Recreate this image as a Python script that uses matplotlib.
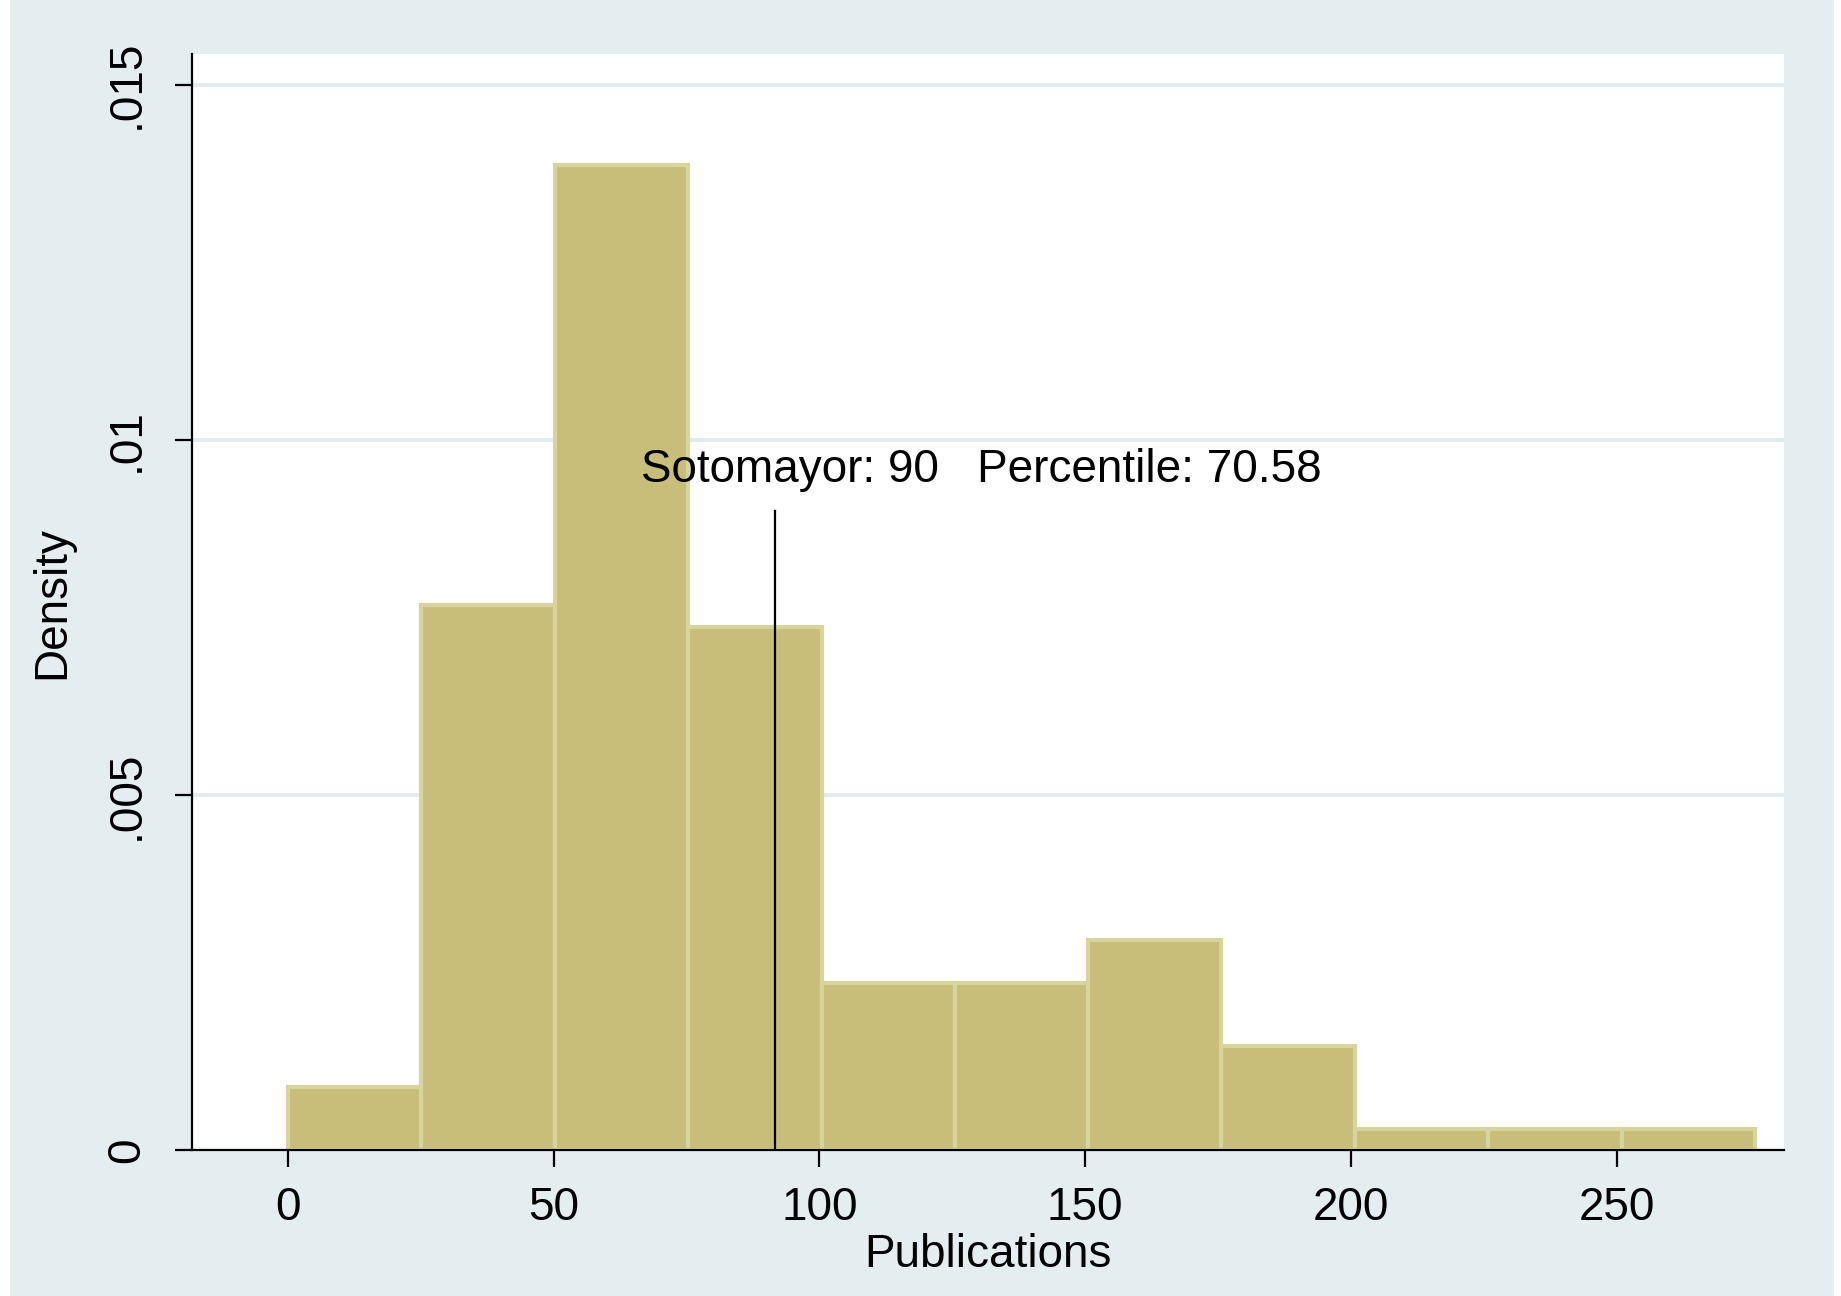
import matplotlib.pyplot as plt
from matplotlib.patches import Rectangle

# histogram
bin_edges = [0, 25.1, 50.2, 75.3, 100.4, 125.5, 150.5, 175.6, 200.7, 225.8, 250.9, 276]
density = [0.00088, 0.00767, 0.01387, 0.00737, 0.00235, 0.00235, 0.00295,
           0.00147, 0.00029, 0.00029, 0.00029]

marker_x = 91.6
marker_top = 0.009
label_text = "Sotomayor: 90   Percentile: 70.58"

xticks = [0, 50, 100, 150, 200, 250]
yticks = [0, 0.005, 0.01, 0.015]
ytick_labels = ["0", ".005", ".01", ".015"]

bg = "#e4eef0"
fs = 33
plt.rcParams["font.family"] = ["Liberation Sans", "DejaVu Sans"]

fig = plt.figure(figsize=(18.41, 12.96), dpi=100, facecolor="white")
fig.patches.append(Rectangle((10 / 1841, 0), (1834 - 10) / 1841, 1,
                             transform=fig.transFigure, facecolor=bg,
                             edgecolor="none", zorder=-10))

ax = fig.add_axes([0.1042, 0.1127, 0.9689 - 0.1042, 0.9581 - 0.1127])
ax.set_zorder(1)
ax.set_facecolor("white")

# grid lines behind bars
for y in yticks[1:]:
    ax.axhline(y, color="#e2ecee", lw=3, zorder=0)

widths = [bin_edges[i + 1] - bin_edges[i] for i in range(len(density))]
ax.bar(bin_edges[:-1], density, width=widths, align="edge",
       color="#c8be7a", edgecolor="#d8d49e", linewidth=3, zorder=2)

ax.plot([marker_x, marker_x], [0, marker_top], color="black", lw=1.6, zorder=3)
ax.text(66.5, 0.0094, label_text, fontsize=fs, va="baseline", ha="left", zorder=4)

ax.set_xlim(-18.06, 281.4)
ax.set_ylim(0, 0.015428)

ax.set_xticks(xticks)
ax.set_xticklabels([str(v) for v in xticks])
ax.set_yticks(yticks)
ax.set_yticklabels(ytick_labels, rotation=90, va="center")

ax.tick_params(axis="both", length=12, width=1.6, labelsize=fs, color="black")
ax.tick_params(axis="x", pad=14)
ax.tick_params(axis="y", pad=19)

for side in ["top", "right"]:
    ax.spines[side].set_visible(False)
for side in ["left", "bottom"]:
    ax.spines[side].set_linewidth(1.6)
    ax.spines[side].set_zorder(5)

ax.set_xlabel("Publications", fontsize=fs, labelpad=2)
ax.set_ylabel("Density", fontsize=fs, labelpad=22)

fig.savefig("out.png", dpi=100, facecolor=fig.get_facecolor())
